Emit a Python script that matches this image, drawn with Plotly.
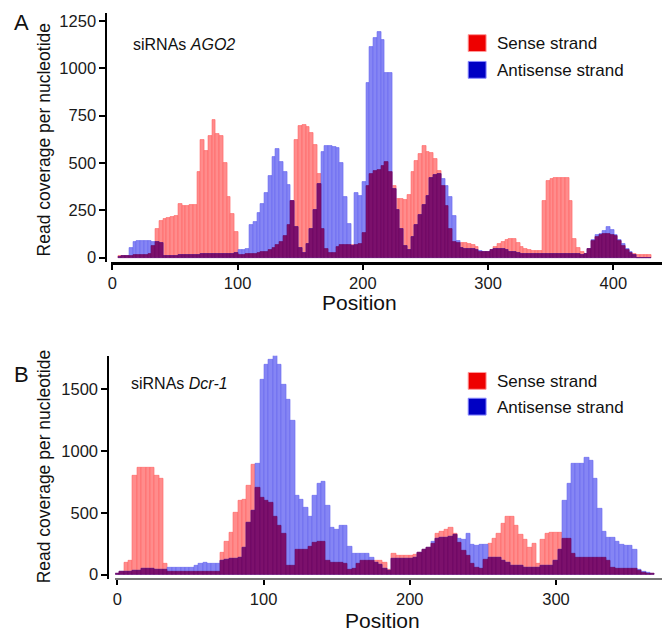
import numpy as np
import plotly.graph_objects as go

# ---------------- Data ----------------
pos_A = list(range(6, 430, 3))
sense_A = [8, 10, 10, 10, 12, 12, 15, 15, 20, 60,
           150, 195, 205, 210, 215, 220, 285, 272, 274, 276,
           280, 450, 620, 565, 640, 725, 655, 640, 500, 320,
           230, 135, 15, 15, 18, 20, 22, 25, 28, 30,
           40, 50, 65, 85, 115, 170, 300, 620, 695, 700,
           690, 660, 596, 440, 150, 45, 25, 25, 55, 65,
           65, 65, 65, 65, 70, 130, 380, 440, 460, 465,
           483, 505, 450, 380, 310, 308, 305, 330, 450, 510,
           550, 590, 560, 555, 520, 460, 380, 275, 150, 82,
           78, 75, 75, 70, 65, 56, 32, 28, 30, 40,
           56, 70, 82, 95, 100, 98, 75, 56, 45, 38,
           35, 33, 33, 300, 404, 415, 420, 421, 420, 421,
           300, 100, 50, 30, 20, 45, 90, 110, 122, 125,
           125, 120, 115, 90, 60, 40, 25, 18, 16, 15,
           15, 12]
anti_A = [5, 8, 10, 50, 85, 90, 90, 90, 88, 85,
          85, 80, 8, 10, 10, 10, 12, 12, 12, 12,
          14, 16, 17, 17, 18, 18, 20, 20, 20, 22,
          22, 25, 40, 40, 45, 170, 190, 235, 282, 340,
          430, 530, 575, 505, 450, 385, 300, 160, 50, 25,
          70, 150, 250, 390, 560, 590, 590, 585, 580, 500,
          320, 180, 60, 340, 325, 400, 920, 1110, 1160, 1190,
          1150, 975, 975, 360, 250, 150, 60, 40, 110, 170,
          224, 280, 326, 420, 439, 440, 413, 378, 320, 220,
          90, 50, 48, 45, 45, 40, 35, 30, 28, 42,
          45, 45, 45, 40, 30, 28, 25, 22, 22, 20,
          20, 20, 20, 20, 20, 20, 20, 18, 18, 18,
          18, 18, 18, 16, 20, 45, 95, 118, 125, 140,
          160, 145, 118, 95, 70, 47, 30, 15, 0, 0,
          0, 0]

pos_B = list(range(0, 367, 3))
sense_B = [5, 25, 95, 115, 800, 866, 866, 866, 866, 800,
           780, 90, 20, 20, 20, 20, 20, 20, 20, 20,
           20, 20, 20, 20, 180, 270, 340, 500, 595, 610,
           720, 890, 700, 620, 595, 580, 470, 400, 330, 75,
           75, 200, 200, 200, 225, 255, 267, 267, 112, 100,
           100, 100, 90, 40, 50, 90, 110, 112, 112, 112,
           112, 100, 40, 170, 152, 152, 152, 152, 160, 180,
           200, 219, 250, 335, 345, 366, 380, 330, 260, 190,
           150, 90, 59, 50, 120, 250, 290, 330, 410, 470,
           473, 400, 326, 280, 220, 250, 90, 280, 332, 340,
           340, 340, 290, 290, 170, 140, 139, 139, 139, 139,
           139, 135, 112, 60, 50, 45, 45, 45, 45, 32,
           15, 10, 8]
anti_B = [5, 20, 22, 25, 32, 35, 45, 45, 45, 40,
          38, 38, 53, 53, 53, 53, 53, 55, 70, 86,
          99, 91, 91, 91, 112, 120, 126, 126, 135, 220,
          420, 520, 900, 1580, 1700, 1740, 1785, 1700, 1540, 1420,
          1250, 640, 610, 540, 470, 640, 740, 750, 560, 380,
          360, 400, 400, 230, 170, 166, 166, 166, 140, 100,
          80, 45, 35, 126, 126, 126, 126, 126, 140, 180,
          200, 219, 270, 290, 300, 295, 305, 326, 290, 286,
          330, 240, 233, 246, 246, 140, 139, 139, 112, 100,
          72, 72, 72, 59, 59, 59, 60, 72, 72, 72,
          110, 200, 600, 740, 900, 900, 900, 945, 920, 780,
          530, 350, 300, 300, 270, 240, 233, 233, 200, 40,
          20, 15, 10]

yticks_A = [0, 250, 500, 750, 1000, 1250]
xticks_A = [0, 100, 200, 300, 400]
yticks_B = [0, 500, 1000, 1500]
xticks_B = [0, 100, 200, 300]

# ---------------- Styling ----------------
W, H = 667, 637
FONT = "Liberation Sans, Arial, sans-serif"
RED_FILL, RED_LINE = "#ff8c8c", "#ff6262"
BLUE_FILL, BLUE_LINE = "#8585f4", "#6464ee"
PUR_FILL, PUR_LINE = "#7c106c", "#6a0560"


def px(x):
    return x / W


def py(y):
    return 1 - y / H


fig = go.Figure()


def add_panel(pos, sense, anti, xa, ya):
    s = np.array(sense, dtype=float)
    a = np.array(anti, dtype=float)
    both = np.minimum(s, a)
    for vals, fill, line in [(s, RED_FILL, RED_LINE), (a, BLUE_FILL, BLUE_LINE),
                             (both, PUR_FILL, PUR_LINE)]:
        fig.add_trace(go.Bar(x=pos, y=vals, width=3, xaxis=xa, yaxis=ya,
                             marker=dict(color=fill, line=dict(color=line, width=0.6)),
                             showlegend=False, hoverinfo="x+y"))


add_panel(pos_A, sense_A, anti_A, "x", "y")
add_panel(pos_B, sense_B, anti_B, "x2", "y2")

axis_common = dict(showgrid=False, zeroline=False, showline=True, linecolor="black",
                   linewidth=2, ticks="outside", ticklen=6, tickwidth=2, tickcolor="black",
                   tickfont=dict(family=FONT, size=16.5, color="#1a1a1a"), anchor="free")

xa_lo, xa_hi = 108, 662
fig.update_layout(
    xaxis=dict(axis_common, domain=[px(xa_lo), px(xa_hi)],
               range=[(xa_lo - 109) / 1.26, (xa_hi - 109) / 1.26],
               tickvals=xticks_A, position=py(264), linewidth=3, ticklen=5),
    yaxis=dict(axis_common, domain=[py(263), py(12)],
               range=[(259 - 263) / 0.1912, (259 - 12) / 0.1912],
               tickvals=yticks_A, position=px(103)),
    xaxis2=dict(axis_common, domain=[px(112), px(662)],
                range=[(112 - 114) / 1.471, (662 - 114) / 1.471],
                tickvals=xticks_B, position=py(584), linecolor="#777777", ticklen=5),
    yaxis2=dict(axis_common, domain=[py(583), py(358)],
                range=[(579 - 583) / 0.12467, (579 - 358) / 0.12467],
                tickvals=yticks_B, position=px(105)),
)

annotations = []


def txt(x, y, s, size, xanchor="center", angle=0):
    annotations.append(dict(x=px(x), y=py(y), xref="paper", yref="paper", text=s,
                            showarrow=False, xanchor=xanchor, yanchor="middle",
                            textangle=angle,
                            font=dict(family=FONT, size=size, color="#111111")))


txt(18, 22, "A", 22)
txt(18, 377, "B", 22)
txt(128, 44, "siRNAs <i>AGO2</i>", 16, xanchor="left")
txt(126, 386, "siRNAs <i>Dcr-1</i>", 16, xanchor="left")
txt(358, 304, "Position", 21)
txt(381, 625, "Position", 21)
txt(40, 140, "Read coverage per nucleotide", 17.5, angle=-90)
txt(40, 470, "Read coverage per nucleotide", 17.5, angle=-90)

shapes = []


def legend(y_red, y_blue):
    for (y0, fill, edge, lab) in [(y_red, "#ee0000", "#ff9a9a", "Sense strand"),
                                  (y_blue, "#0000c4", "#8a8aff", "Antisense strand")]:
        shapes.append(dict(type="rect", xref="paper", yref="paper",
                           x0=px(467), x1=px(485), y0=py(y0 + 17), y1=py(y0),
                           fillcolor=fill, line=dict(color=edge, width=1)))
        txt(494, y0 + 9, lab, 17, xanchor="left")


legend(34, 61)
legend(375, 401)

fig.update_layout(width=W, height=H, margin=dict(l=0, r=0, t=0, b=0),
                  paper_bgcolor="white", plot_bgcolor="white",
                  barmode="overlay", bargap=0, showlegend=False,
                  annotations=annotations, shapes=shapes)

fig.write_html("out.html", config={"displayModeBar": False},
               post_script="document.body.style.margin='0';document.body.style.padding='0';")
